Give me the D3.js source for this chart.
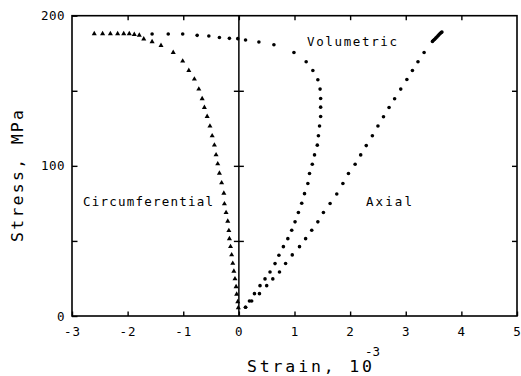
<!DOCTYPE html>
<html>
<head>
<meta charset="utf-8">
<script src="https://cdn.jsdelivr.net/npm/d3@7"></script>
<style>
  html, body { margin: 0; padding: 0; background: #fff; }
  svg { display: block; }
  text { font-family: "DejaVu Sans Mono", monospace; fill: #000; }
</style>
</head>
<body>
<svg id="chart" width="521" height="376"></svg>
<script>
// ---- Data (strain in 10^-3, stress in MPa) ----
const circStrain = [-2.60,-2.45,-2.31,-2.18,-2.07,-1.97,-1.88,-1.79,-1.71,-1.56,-1.40,-1.18,-1.01,-0.90,-0.80,-0.72,-0.66,-0.62,-0.57,-0.52,-0.48,-0.44,-0.41,-0.38,-0.35,-0.31,-0.27,-0.26,-0.23,-0.20,-0.18,-0.17,-0.15,-0.13,-0.11,-0.09,-0.07,-0.05,-0.04,-0.02,-0.01];
const circStress = [188,188,188,188,188,188,187.5,187,184.5,182.7,180.2,175.5,169.8,163.5,157.8,151.1,144.7,138.9,132.9,126.5,120,113.8,107.3,101.3,95.1,88.7,81.8,74.7,68.9,63.1,56.9,51.5,46.2,40.7,35.1,29.8,24.7,19.5,14.5,9.5,5.5];

const volStrain = [0.12,0.19,0.28,0.38,0.47,0.56,0.65,0.72,0.80,0.88,0.95,1.01,1.07,1.13,1.18,1.24,1.27,1.32,1.36,1.41,1.43,1.45,1.47,1.47,1.47,1.46,1.42,1.33,1.21,0.99,0.63,0.36,0.12,-0.02,-0.17,-0.35,-0.54,-0.75,-1.01,-1.27,-1.56];
const volStress = [5.8,10,14.9,20.2,24.7,29.3,34.9,40.5,46.2,51.5,57.1,62.7,68.9,75.1,81.5,88.2,94.9,101.1,107.3,113.8,120,126.5,132.9,139.1,144.9,151.1,157.3,163.5,169.3,175.5,180.7,182.5,183.8,184.7,184.9,185.5,186.5,186.9,187.8,187.8,187.8];

const axStrain = [0.12,0.23,0.37,0.50,0.61,0.73,0.84,0.96,1.09,1.20,1.31,1.42,1.52,1.64,1.76,1.87,1.97,2.09,2.19,2.29,2.40,2.50,2.60,2.70,2.80,2.91,3.02,3.12,3.22,3.33,3.48,3.50,3.52,3.54,3.56,3.58,3.60,3.62,3.64,3.65];
const axStress = [5.8,10,14.9,20.2,24.7,29.3,35,40.7,46.2,51.5,57.1,62.7,68.9,74.9,81.3,88.2,94.9,101.1,107.3,113.5,120,126.5,132.7,138.9,144.7,151.1,157.5,163.5,169.3,175.5,182.9,183.6,184.3,185.1,185.8,186.6,187.4,188.2,188.8,189.1];

const xTicks = [-3,-2,-1,0,1,2,3,4,5];
const yTicks = [0,50,100,150,200];
const yTickLabels = [0,100,200];
const seriesLabels = ["Circumferential","Volumetric","Axial"];
const xTitle = "Strain, 10";
const xTitleExp = "-3";
const yTitle = "Stress, MPa";

// ---- Layout ----
const svg = d3.select("#chart");
const L = 72, R = 517, T = 15.7, B = 316;
const x = d3.scaleLinear().domain([-3,5]).range([L,R]);
const y = d3.scaleLinear().domain([0,200]).range([B,T]);

function styleAxis(g) {
  g.selectAll(".domain").remove();
  g.selectAll(".tick line").attr("stroke","#000").attr("stroke-width",1.4);
  g.selectAll("text").style("font-family",'"DejaVu Sans Mono", monospace').attr("fill","#000");
}

// bottom axis (ticks inward)
svg.append("g").attr("transform",`translate(0,${B})`)
  .call(d3.axisBottom(x).tickValues(xTicks).tickSizeInner(-4.5).tickSizeOuter(0).tickPadding(11)
        .tickFormat(d => String(d)))
  .call(styleAxis)
  .call(g => g.selectAll("text").style("font-size","12.5px").attr("letter-spacing","1"));
// top axis (ticks inward, no labels)
svg.append("g").attr("transform",`translate(0,${T})`)
  .call(d3.axisTop(x).tickValues(xTicks.slice(1,-1)).tickSizeInner(-4.5).tickSizeOuter(0).tickFormat(""))
  .call(styleAxis);
// left axis
svg.append("g").attr("transform",`translate(${L},0)`)
  .call(d3.axisLeft(y).tickValues(yTicks).tickSizeInner(-5.5).tickSizeOuter(0).tickPadding(7)
        .tickFormat(d => yTickLabels.includes(d) ? String(d) : ""))
  .call(styleAxis)
  .call(g => g.selectAll("text").style("font-size","12.5px").attr("letter-spacing","0.5"));
// right axis
svg.append("g").attr("transform",`translate(${R},0)`)
  .call(d3.axisRight(y).tickValues([50,100,150]).tickSizeInner(-5).tickSizeOuter(0).tickFormat(""))
  .call(styleAxis);
// zero line ticks (cross both sides)
svg.append("g").attr("transform",`translate(${x(0)},0)`)
  .call(d3.axisLeft(y).tickValues([50,100,150]).tickSizeInner(5).tickSizeOuter(0).tickFormat(""))
  .call(styleAxis);
svg.append("g").attr("transform",`translate(${x(0)},0)`)
  .call(d3.axisRight(y).tickValues([50,100,150]).tickSizeInner(5).tickSizeOuter(0).tickFormat(""))
  .call(styleAxis);

// frame + zero line
svg.append("rect").attr("x",L).attr("y",T).attr("width",R-L).attr("height",B-T)
  .attr("fill","none").attr("stroke","#000").attr("stroke-width",1.6);
svg.append("line").attr("x1",x(0)).attr("x2",x(0)).attr("y1",T).attr("y2",B)
  .attr("stroke","#000").attr("stroke-width",1.5);

// data
const tri = d3.symbol().type(d3.symbolTriangle).size(11);
svg.append("g").selectAll("path").data(d3.range(circStrain.length)).join("path")
  .attr("d",tri).attr("fill","#000")
  .attr("transform",i => `translate(${x(circStrain[i])},${y(circStress[i])})`);
svg.append("g").selectAll("circle").data(d3.range(volStrain.length)).join("circle")
  .attr("cx",i => x(volStrain[i])).attr("cy",i => y(volStress[i])).attr("r",1.8).attr("fill","#000");
svg.append("g").selectAll("circle").data(d3.range(axStrain.length)).join("circle")
  .attr("cx",i => x(axStrain[i])).attr("cy",i => y(axStress[i])).attr("r",1.8).attr("fill","#000");

// series labels
const lab = svg.append("g").style("font-size","12.5px");
lab.append("text").attr("x",83).attr("y",206).attr("textLength",130).attr("lengthAdjust","spacing").text(seriesLabels[0]);
lab.append("text").attr("x",307).attr("y",46).attr("textLength",90).attr("lengthAdjust","spacing").text(seriesLabels[1]);
lab.append("text").attr("x",366).attr("y",206).attr("textLength",46).attr("lengthAdjust","spacing").text(seriesLabels[2]);

// axis titles
svg.append("text").attr("x",247).attr("y",372).style("font-size","16.5px")
  .attr("textLength",125).attr("lengthAdjust","spacing").text(xTitle);
svg.append("text").attr("x",365).attr("y",356).style("font-size","12.5px").text(xTitleExp);
svg.append("text").attr("transform","translate(23,242) rotate(-90)").style("font-size","16.5px")
  .attr("textLength",132).attr("lengthAdjust","spacing").text(yTitle);
</script>
</body>
</html>
